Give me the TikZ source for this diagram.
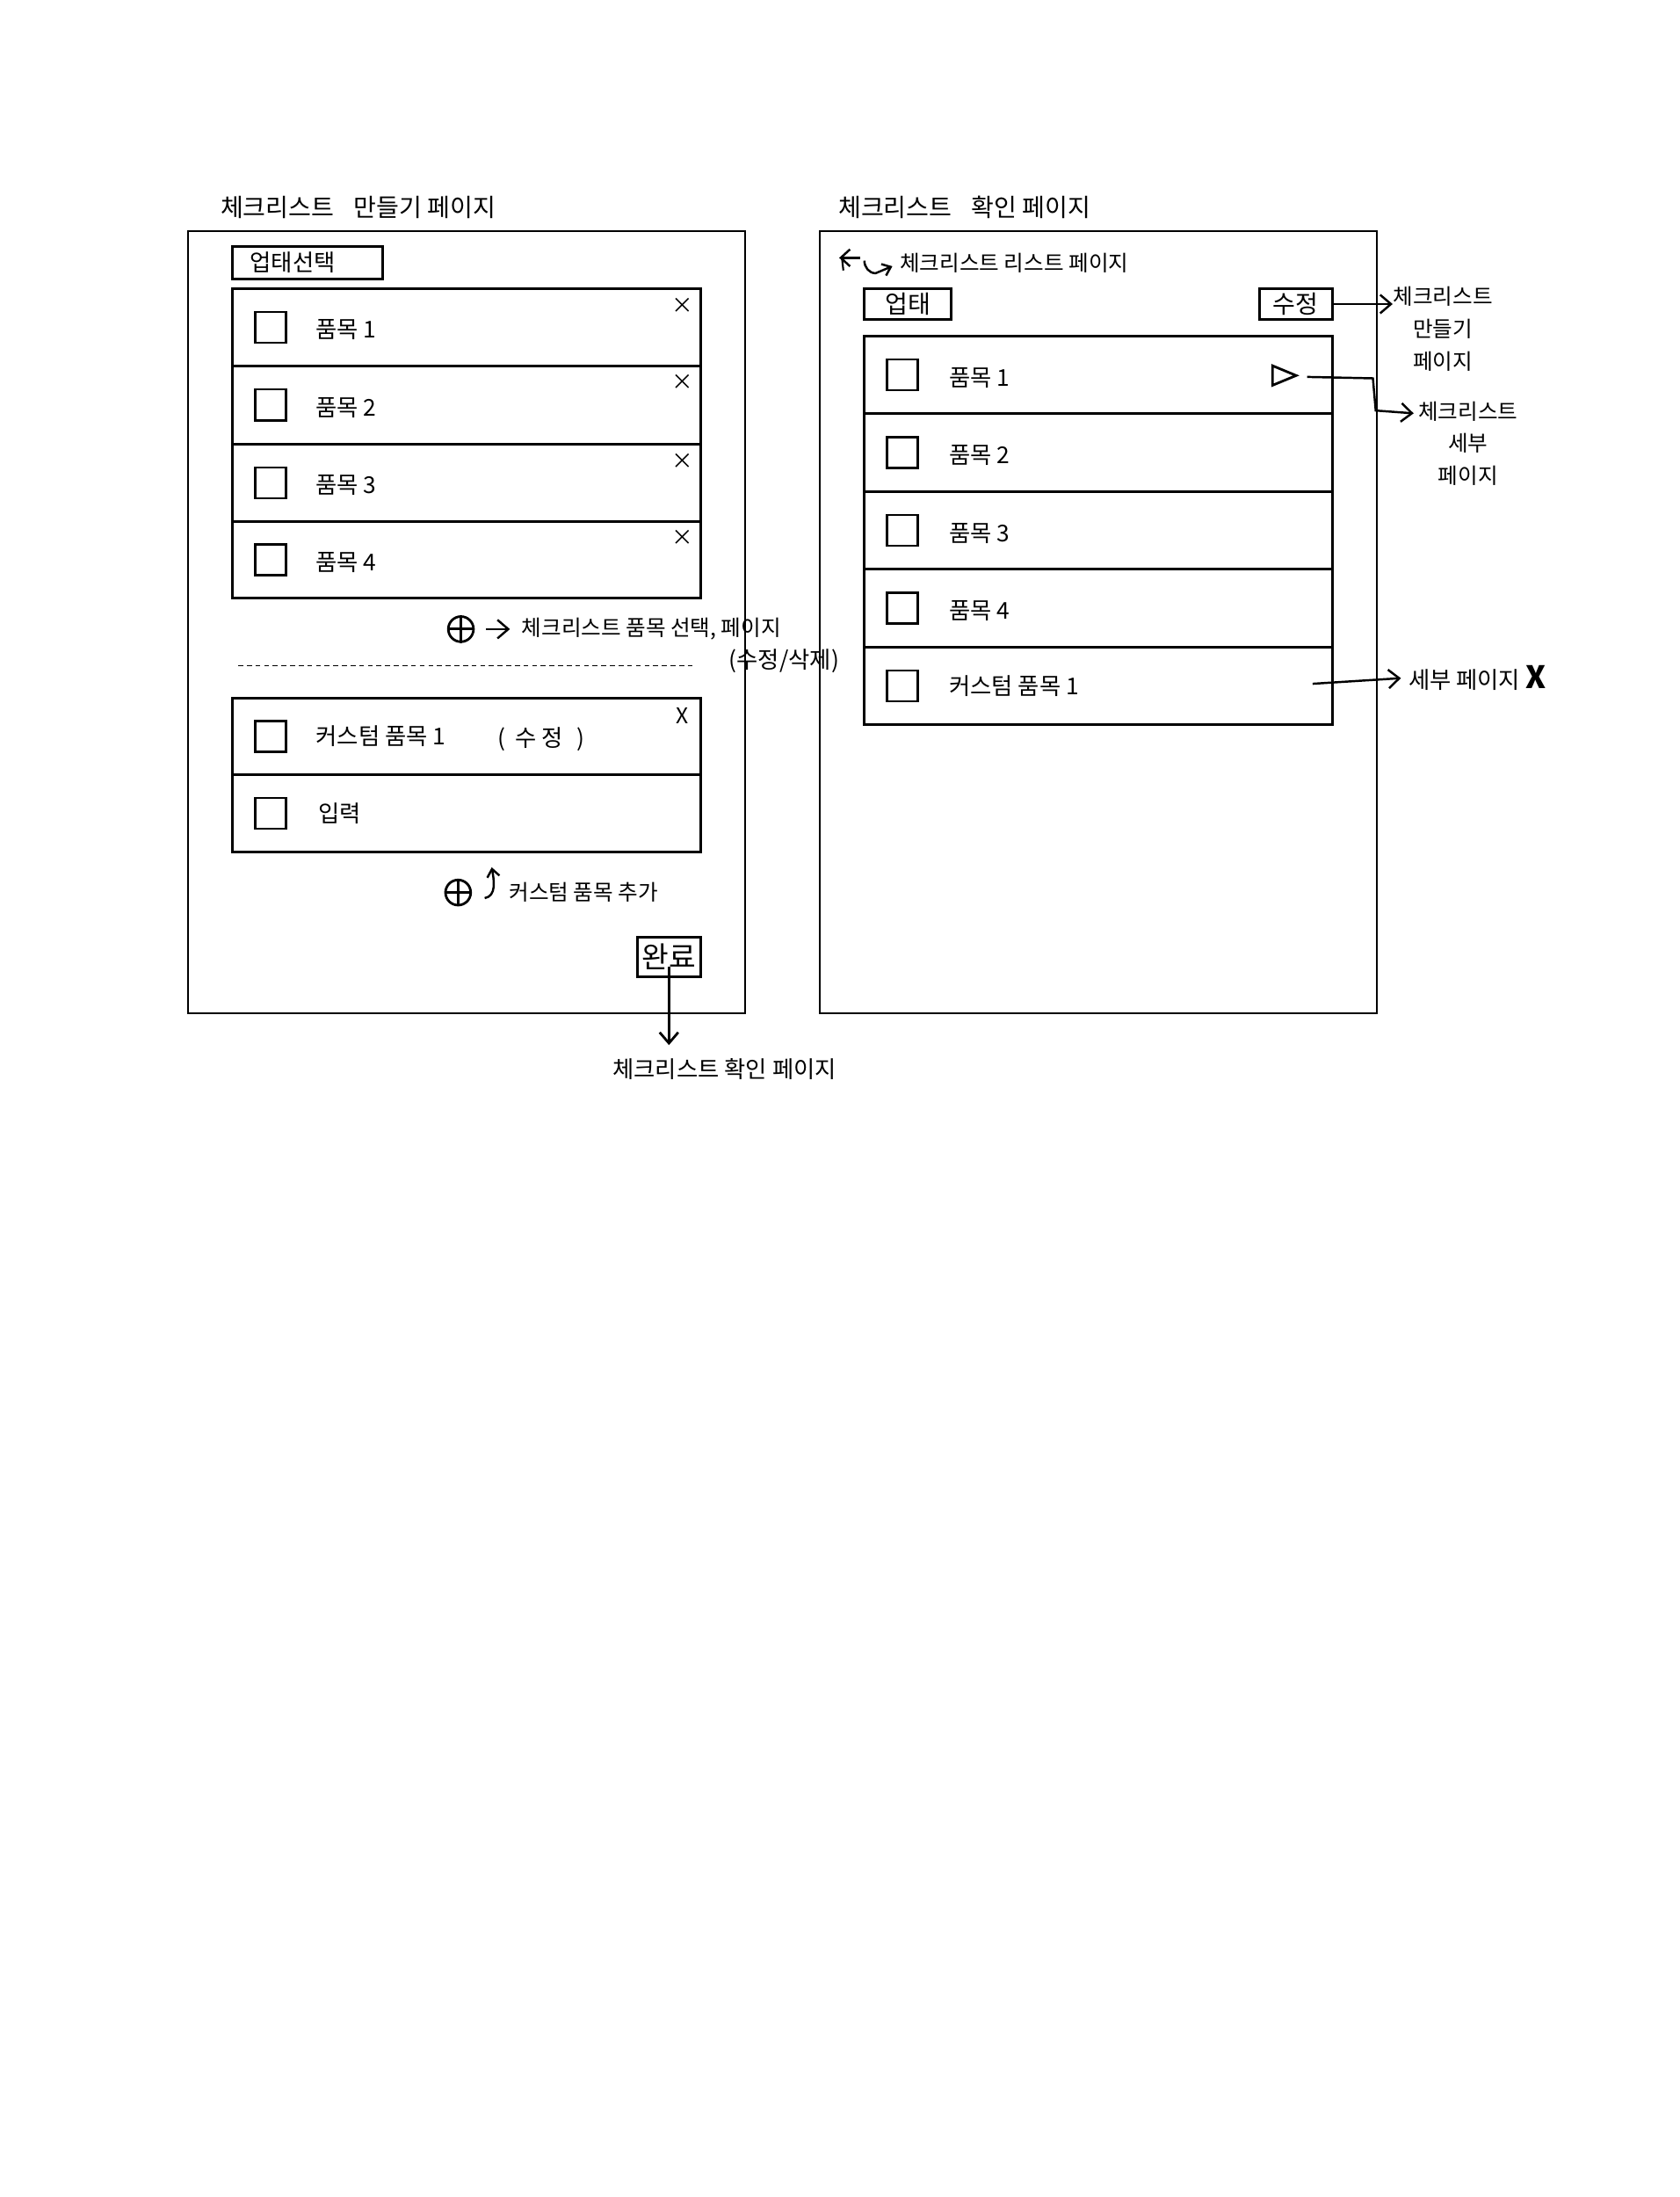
\documentclass[tikz,border=0pt]{standalone}
\usepackage{fontspec}
\newfontfamily\kr{Noto Sans CJK KR}
\usetikzlibrary{fit,arrows.meta,calc,shapes.geometric}
\begin{document}
\begin{tikzpicture}[x=0.015939cm,y=-0.015939cm,
  frame/.style={draw,line width=0.6pt,inner sep=0pt},
  rowbox/.style={draw,line width=0.85pt,inner sep=0pt},
  btn/.style={draw,line width=0.8pt,inner sep=0pt},
  btxt/.style={font=\kr\fontsize{8}{9}\selectfont,inner sep=0pt,anchor=center},
  chk/.style={draw,line width=0.7pt,minimum size=22*0.015939cm,inner sep=0pt},
  ttl/.style={font=\kr\fontsize{8}{10}\selectfont,anchor=west,inner sep=0pt},
  lbl/.style={font=\kr\fontsize{7.5}{9}\selectfont,anchor=west,inner sep=0pt},
  note/.style={font=\kr\fontsize{7}{9}\selectfont,anchor=west,inner sep=0pt},
  stack/.style={font=\kr\fontsize{7}{10.5}\selectfont,align=center,inner sep=0pt},
  xm/.style={font=\kr\fontsize{7}{8}\selectfont,inner sep=0pt},
  pl/.style={circle,draw,line width=0.8pt,minimum size=18*0.015939cm,inner sep=0pt},
  arr/.style={-{Straight Barb[length=3.5pt,width=6pt]},line width=0.7pt}
]
\fill[white] (0,0) rectangle (1199,1568);
\useasboundingbox (0,0) rectangle (1199,1568);

% ---------------- Left page ----------------
\node[ttl] (ltitle) at (157,148) {체크리스트\hspace{0.8em}만들기 페이지};
\node[frame,fit={(134,165)(532,723)}] (lf) {};
\node[btn,fit={(166,176)(273,199)}] (lbiz) {};
\node[lbl] (lbizt) at (178,187) {업태선택};

\foreach \i/\t/\b in {1/206/261,2/261/317,3/317/372,4/372/427}{
  \node[rowbox,fit={(166,\t)(500,\b)}] (l\i) {};
  \node[chk] (lc\i) at ($(l\i.west)+(28,0)$) {};
  \node[lbl] (lt\i) at ($(l\i.west)+(60,2)$) {품목 \i};
  \node[xm] (lx\i) at ($(l\i.north east)+(-14,13)$) {×};
}

\node[pl] (plus1) at (329,449) {};
\draw[line width=0.8pt] (plus1.north) -- (plus1.south) (plus1.west) -- (plus1.east);
\node[note] (selnote) at (372,449) {체크리스트 품목 선택, 페이지};
\draw[arr] ($(plus1.east)+(8,0)$) -- ($(selnote.west)+(-8,0)$);
\node[note,font=\kr\fontsize{7.5}{9}\selectfont] (edel) at (520,472) {(수정/삭제)};

\draw[line width=0.4pt,dash pattern=on 1.6pt off 1.2pt] (170,475) -- (497,475);

\node[rowbox,fit={(166,498)(500,553)}] (c1) {};
\node[chk] (cc1) at ($(c1.west)+(28,0)$) {};
\node[lbl] (ct1) at ($(c1.west)+(60,0)$) {커스텀 품목 1};
\node[lbl] (cedit) at ($(c1.west)+(190,2)$) {(\hspace{0.4em}수 정\hspace{0.6em})};
\node[xm] (cx1) at ($(c1.north east)+(-14,14)$) {X};
\node[rowbox,fit={(166,553)(500,608)}] (c2) {};
\node[chk] (cc2) at ($(c2.west)+(28,0)$) {};
\node[lbl] (ct2) at ($(c2.west)+(62,0)$) {입력};

\node[pl] (plus2) at (327,637) {};
\draw[line width=0.8pt] (plus2.north) -- (plus2.south) (plus2.west) -- (plus2.east);
\draw[arr,-{Straight Barb[length=2.5pt,width=4pt]}] (346,641) to[out=10,in=-80] (351,619);
\node[note] (addnote) at (363,637) {커스텀 품목 추가};

\node[btn,fit={(455,669)(500,697)}] (done) {};
\node[btxt,font=\kr\fontsize{9.5}{10}\selectfont] (donet) at (done.center) {완료};
\node[ttl,font=\kr\fontsize{7.5}{10}\selectfont] (goview) at (437,763) {체크리스트 확인 페이지};
\draw[arr,line width=0.8pt] ($(done.south)+(0,-8)$) -- ($(done.south)+(0,48)$);

% ---------------- Right page ----------------
\node[ttl] (rtitle) at (598,148) {체크리스트\hspace{0.8em}확인 페이지};
\node[frame,fit={(585,165)(983,723)}] (rf) {};

\coordinate (backs) at (614,184);
\coordinate (backe) at (599,184);
\draw[arr,-{Straight Barb[length=3pt,width=5.5pt]}] (backs) -- (backe);
\draw[line width=0.6pt] (601,184) -- (602,193);
\node[note] (listnote) at (642,188) {체크리스트 리스트 페이지};
\coordinate (hooks) at (617,186);
\draw[arr,-{Straight Barb[length=2.5pt,width=4pt]}] (hooks) to[out=-90,in=180] (625,195) -- ($(listnote.west)+(-5,2)$);

\node[btn,fit={(617,206)(679,228)}] (rbiz) {};
\node[btxt] (rbizt) at (rbiz.center) {업태};
\node[btn,fit={(899,206)(951,228)}] (redit) {};
\node[btxt] (reditt) at (redit.center) {수정};

\node[stack,anchor=north] (mknote) at (1030,204) {체크리스트\\만들기\\페이지};
\draw[arr] (redit.east) -- (redit.east -| mknote.west);

\foreach \i/\t/\b in {1/240/295,2/295/351,3/351/406,4/406/462}{
  \node[rowbox,fit={(617,\t)(951,\b)}] (r\i) {};
  \node[chk] (rc\i) at ($(r\i.west)+(28,0)$) {};
  \node[lbl] (rt\i) at ($(r\i.west)+(61,2)$) {품목 \i};
}
\node[rowbox,fit={(617,462)(951,517)}] (r5) {};
\node[chk] (rc5) at ($(r5.west)+(28,0)$) {};
\node[lbl] (rt5) at ($(r5.west)+(61,0)$) {커스텀 품목 1};

\node[isosceles triangle,draw,line width=0.8pt,minimum height=14*0.015939cm,minimum width=14*0.015939cm,inner sep=0pt] (tri) at (913,268) {};
\node[stack,anchor=north] (detnote) at (1048,286) {체크리스트\\세부\\페이지};
\coordinate (trs) at (933,269);
\draw[arr] (trs) -- (980,270) -- (982,293) -- ($(detnote.north west)+(-3,9)$);

\coordinate (cus) at (937,488);
\node[note,font=\kr\fontsize{7.5}{9}\selectfont] (nodet) at (1005,484) {세부 페이지 \textbf{\fontsize{10}{10}\selectfont X}};
\draw[arr] (cus) -- ($(nodet.west)+(-5,0)$);
\end{tikzpicture}
\end{document}
